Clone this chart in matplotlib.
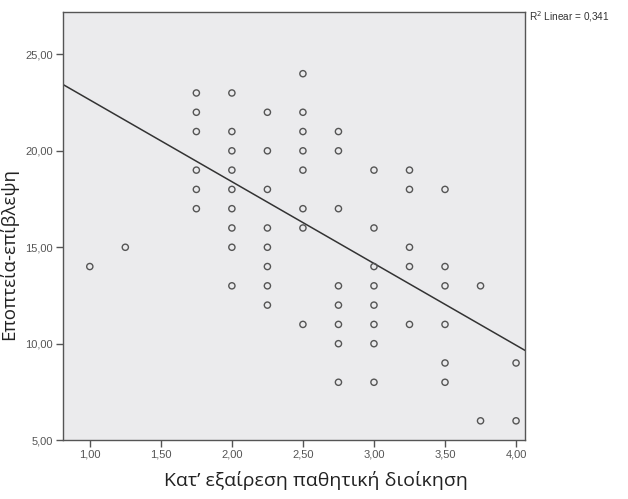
import matplotlib
matplotlib.use('Agg')
import matplotlib.pyplot as plt
from matplotlib.ticker import FuncFormatter

# x value -> list of y values
x_vals = [1.00, 1.25, 1.75, 2.00, 2.25, 2.50, 2.75, 3.00, 3.25, 3.50, 3.75, 4.00]
y_vals = [
    [14],
    [15],
    [23, 22, 21, 19, 18, 17],
    [23, 21, 20, 19, 18, 17, 16, 15, 13],
    [22, 20, 18, 16, 15, 14, 13, 12],
    [24, 22, 21, 20, 19, 17, 16, 11],
    [21, 20, 17, 13, 12, 11, 10, 8],
    [19, 16, 14, 13, 12, 11, 10, 8],
    [19, 18, 15, 14, 11],
    [18, 14, 13, 11, 9, 8],
    [13, 6],
    [9, 6],
]
fit_intercept = 26.88
fit_slope = -4.24
r2_text = 'R$^2$ Linear = 0,341'
x_label = 'Κατ’ εξαίρεση παθητική διοίκηση'
y_label = 'Εποπτεία-επίβλεψη'

xs = []
ys = []
for xv, yl in zip(x_vals, y_vals):
    for yv in yl:
        xs.append(xv)
        ys.append(yv)

fig = plt.figure(figsize=(6.28, 4.99), dpi=100)
ax = fig.add_axes([0.100, 0.118, 0.736, 0.858])
ax.set_facecolor('#ebebed')

ax.scatter(xs, ys, s=20, facecolors='none', edgecolors='#555555', linewidths=1.0, zorder=3)

x0, x1 = 0.81, 4.063
ax.plot([x0, x1], [fit_intercept + fit_slope * x0, fit_intercept + fit_slope * x1],
        color='#333333', linewidth=1.1, zorder=2)

ax.set_xlim(x0, x1)
ax.set_ylim(5.1, 27.2)
ax.set_xticks([1.0, 1.5, 2.0, 2.5, 3.0, 3.5, 4.0])
ax.set_yticks([5, 10, 15, 20, 25])
fmt = FuncFormatter(lambda v, p: ('%.2f' % v).replace('.', ','))
ax.xaxis.set_major_formatter(fmt)
ax.yaxis.set_major_formatter(fmt)
ax.tick_params(direction='out', length=5, width=1, color='#555555', pad=2,
               labelsize=8, labelcolor='#555555')
for lab in ax.get_xticklabels() + ax.get_yticklabels():
    lab.set_family('Liberation Sans')
for s in ax.spines.values():
    s.set_color('#555555')
    s.set_linewidth(1.0)

ax.set_xlabel(x_label, fontsize=14, family='Open Sans', color='#222222', labelpad=8)
ax.set_ylabel(y_label, fontsize=13.5, family='Open Sans', color='#222222', labelpad=5)
ax.xaxis.label.set_x(0.548)
ax.yaxis.label.set_y(0.435)

fig.text(0.842, 0.958, r2_text, fontsize=7.2, family='Liberation Sans', color='#333333')

fig.savefig('out.png', dpi=100, facecolor='white')
